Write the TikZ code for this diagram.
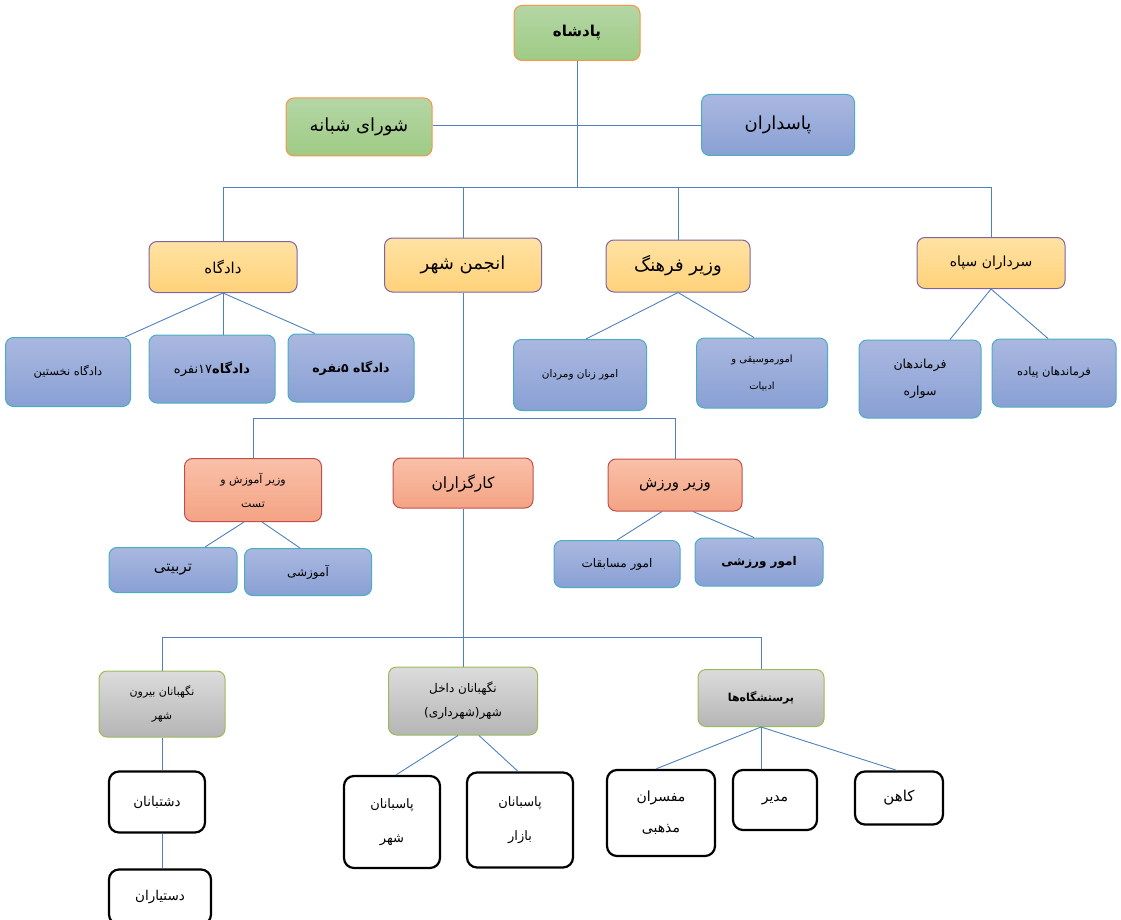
\documentclass[tikz,border=0pt]{standalone}
\usepackage{fontspec}
\usepackage{tikz}
\usetikzlibrary{calc}
\TeXXeTstate=1
\newfontfamily\farsi[Script=Arabic]{DejaVu Sans}
\newcommand{\fa}[1]{\beginR #1\endR}
\newcommand{\fs}[2]{\fontsize{#1}{#2}\selectfont}
\definecolor{linkblue}{HTML}{4F81BD}
\tikzset{
  box/.style={rounded corners=8pt, align=center, inner sep=2pt, line width=1pt, text=black},
  greenbox/.style={box, draw={rgb,255:red,247;green,150;blue,70}, top color={rgb,255:red,181;green,214;blue,165}, bottom color={rgb,255:red,158;green,203;blue,133}},
  bluebox/.style={box, draw={rgb,255:red,75;green,172;blue,198}, top color={rgb,255:red,170;green,184;blue,224}, bottom color={rgb,255:red,137;green,160;blue,212}},
  yellowbox/.style={box, draw={rgb,255:red,128;green,100;blue,162}, top color={rgb,255:red,255;green,226;blue,163}, bottom color={rgb,255:red,255;green,210;blue,122}},
  redbox/.style={box, draw={rgb,255:red,192;green,80;blue,77}, top color={rgb,255:red,249;green,192;blue,168}, bottom color={rgb,255:red,244;green,163;blue,132}},
  graybox/.style={box, draw={rgb,255:red,155;green,187;blue,89}, top color={rgb,255:red,220;green,220;blue,220}, bottom color={rgb,255:red,181;green,181;blue,181}},
  whitebox/.style={box, draw=black, fill=white, line width=2.2pt, rounded corners=10pt},
  link/.style={draw=linkblue, line width=0.9pt}
}

\begin{document}
\begin{tikzpicture}[x=1pt,y=-1pt]
\useasboundingbox (0,0) rectangle (1121,920);

% top
\node[greenbox, minimum width=126, minimum height=55, font=\farsi\bfseries\fs{15}{20}] (shah) at (577,33) {\fa{پادشاه}};
\node[greenbox, minimum width=146, minimum height=58, font=\farsi\fs{18}{24}] (shura) at (359,127) {\fa{شورای شبانه}};
\node[bluebox, minimum width=153, minimum height=61, font=\farsi\fs{18}{24}] (pasdaran) at (778,125) {\fa{پاسداران}};
\coordinate (bus1) at (0,187);
\coordinate (bus2) at (0,418);
\coordinate (bus3) at (0,637);

% level 2
\node[yellowbox, minimum width=148, minimum height=51, font=\farsi\fs{15}{20}] (dadgah) at (223,267) {\fa{دادگاه}};
\node[yellowbox, minimum width=157, minimum height=54, font=\farsi\fs{18}{20}] (anjoman) at (463,265) {\fa{انجمن شهر}};
\node[yellowbox, minimum width=144, minimum height=52, font=\farsi\fs{18}{20}] (farhang) at (678,266) {\fa{وزیر فرهنگ}};
\node[yellowbox, minimum width=148, minimum height=51, font=\farsi\fs{14}{20}] (sepah) at (991,263) {\fa{سرداران سپاه}};

% level 3
\node[bluebox, minimum width=125, minimum height=69, font=\farsi\fs{11.5}{20}] (nokhostin) at (68,372) {\fa{دادگاه نخستین}};
\node[bluebox, minimum width=126, minimum height=68, font=\farsi\fs{13}{20}] (hefdah) at (212,369) {\fa{{\bfseries دادگاه}۱۷نفره}};
\node[bluebox, minimum width=126, minimum height=68, font=\farsi\bfseries\fs{12.5}{20}] (panj) at (351,368) {\fa{دادگاه ۵نفره}};
\node[bluebox, minimum width=133, minimum height=71, font=\farsi\fs{10.5}{20}] (zanan) at (580,375) {\fa{امور زنان ومردان}};
\node[bluebox, minimum width=131, minimum height=70, font=\farsi\fs{10}{27}] (musiqi) at (762,373) {\fa{امورموسیقی و}\\\fa{ادبیات}};
\node[bluebox, minimum width=122, minimum height=78, font=\farsi\fs{12.5}{27}] (savare) at (920,379) {\fa{فرماندهان}\\\fa{سواره}};
\node[bluebox, minimum width=124, minimum height=68, font=\farsi\fs{11.5}{20}] (piade) at (1054,373) {\fa{فرماندهان پیاده}};

% level 4
\node[redbox, minimum width=137, minimum height=63, font=\farsi\fs{11}{24}] (amoozesh) at (253,490) {\fa{وزیر آموزش و}\\\fa{تست}};
\node[redbox, minimum width=140, minimum height=50, font=\farsi\fs{15.5}{20}] (kargozaran) at (463,483) {\fa{کارگزاران}};
\node[redbox, minimum width=134, minimum height=52, font=\farsi\fs{15}{20}] (varzesh) at (675,485) {\fa{وزیر ورزش}};

% level 5
\node[bluebox, minimum width=128, minimum height=45, font=\farsi\fs{15}{20}] (tarbiati) at (173,570) {\fa{تربیتی}};
\node[bluebox, minimum width=127, minimum height=47, font=\farsi\fs{12}{20}] (amoozeshi) at (308,572) {\fa{آموزشی}};
\node[bluebox, minimum width=126, minimum height=47, font=\farsi\fs{12}{20}] (mosabeqat) at (617,564) {\fa{امور مسابقات}};
\node[bluebox, minimum width=128, minimum height=48, font=\farsi\bfseries\fs{12}{20}] (varzeshi) at (759,562) {\fa{امور ورزشی}};

% level 6
\node[graybox, minimum width=126, minimum height=66, font=\farsi\fs{11}{24}] (birun) at (162,704) {\fa{نگهبانان بیرون}\\\fa{شهر}};
\node[graybox, minimum width=149, minimum height=68, font=\farsi\fs{12}{24}] (dakhel) at (463,701) {\fa{نگهبانان داخل}\\\fa{شهر(شهرداری)}};
\node[graybox, minimum width=126, minimum height=57, font=\farsi\bfseries\fs{11}{20}] (parastesh) at (761,698) {\fa{پرستشگاه‌ها}};

% level 7
\node[whitebox, minimum width=96, minimum height=61, font=\farsi\fs{13.5}{20}] (dashtban) at (157,802) {\fa{دشتبانان}};
\node[whitebox, minimum width=102, minimum height=55, font=\farsi\fs{13.5}{20}] (dastyar) at (160,897) {\fa{دستیاران}};
\node[whitebox, minimum width=96, minimum height=92, font=\farsi\fs{13}{34}] (pasban1) at (392,822) {\fa{پاسبانان}\\\fa{شهر}};
\node[whitebox, minimum width=106, minimum height=95, font=\farsi\fs{13}{34}] (pasban2) at (520,820) {\fa{پاسبانان}\\\fa{بازار}};
\node[whitebox, minimum width=108, minimum height=86, font=\farsi\fs{14}{31}] (mofasseran) at (661,813) {\fa{مفسران}\\\fa{مذهبی}};
\node[whitebox, minimum width=84, minimum height=60, font=\farsi\fs{14}{20}] (modir) at (775,800) {\fa{مدیر}};
\node[whitebox, minimum width=88, minimum height=53, font=\farsi\fs{15}{20}] (kahen) at (899,798) {\fa{کاهن}};

% connectors
\draw[link] (shura.east |- pasdaran.west) -- (pasdaran.west);
\draw[link] (shah.south) -- (shah.south |- bus1);
\draw[link] (dadgah.north) -- (dadgah.north |- bus1) -| (sepah.north);
\draw[link] (anjoman.north) -- (anjoman.north |- bus1);
\draw[link] (farhang.north) -- (farhang.north |- bus1);

\draw[link] (dadgah.south) -- ([xshift=-6pt]nokhostin.north east);
\draw[link] (dadgah.south) -- (dadgah.south |- hefdah.north);
\draw[link] (dadgah.south) -- ([xshift=-36pt]panj.north);
\draw[link] (farhang.south) -- ([xshift=6pt]zanan.north);
\draw[link] (farhang.south) -- ([xshift=-8pt]musiqi.north);
\draw[link] (sepah.south) -- ([xshift=30pt]savare.north);
\draw[link] (sepah.south) -- ([xshift=-6pt]piade.north);

\draw[link] (amoozesh.north) -- (amoozesh.north |- bus2) -| (varzesh.north);
\draw[link] (anjoman.south) -- (kargozaran.north);
\draw[link] ([xshift=-9pt]amoozesh.south) -- ([xshift=32pt]tarbiati.north);
\draw[link] ([xshift=9pt]amoozesh.south) -- ([xshift=-8pt]amoozeshi.north);
\draw[link] ([xshift=-13pt]varzesh.south) -- (mosabeqat.north);
\draw[link] ([xshift=18pt]varzesh.south) -- ([xshift=-5pt]varzeshi.north);

\draw[link] (birun.north) -- (birun.north |- bus3) -| (parastesh.north);
\draw[link] (kargozaran.south) -- (dakhel.north);
\draw[link] (birun.south) -- (birun.south |- dashtban.north);
\draw[link] (birun.south |- dashtban.south) -- (birun.south |- dastyar.north);
\draw[link] ([xshift=-5pt]dakhel.south) -- ([xshift=4pt]pasban1.north);
\draw[link] ([xshift=16pt]dakhel.south) -- ([xshift=-2pt]pasban2.north);
\draw[link] (parastesh.south) -- ([xshift=-5pt]mofasseran.north);
\draw[link] (parastesh.south) -- (parastesh.south |- modir.north);
\draw[link] (parastesh.south) -- ([xshift=-2pt]kahen.north);
\end{tikzpicture}
\end{document}
